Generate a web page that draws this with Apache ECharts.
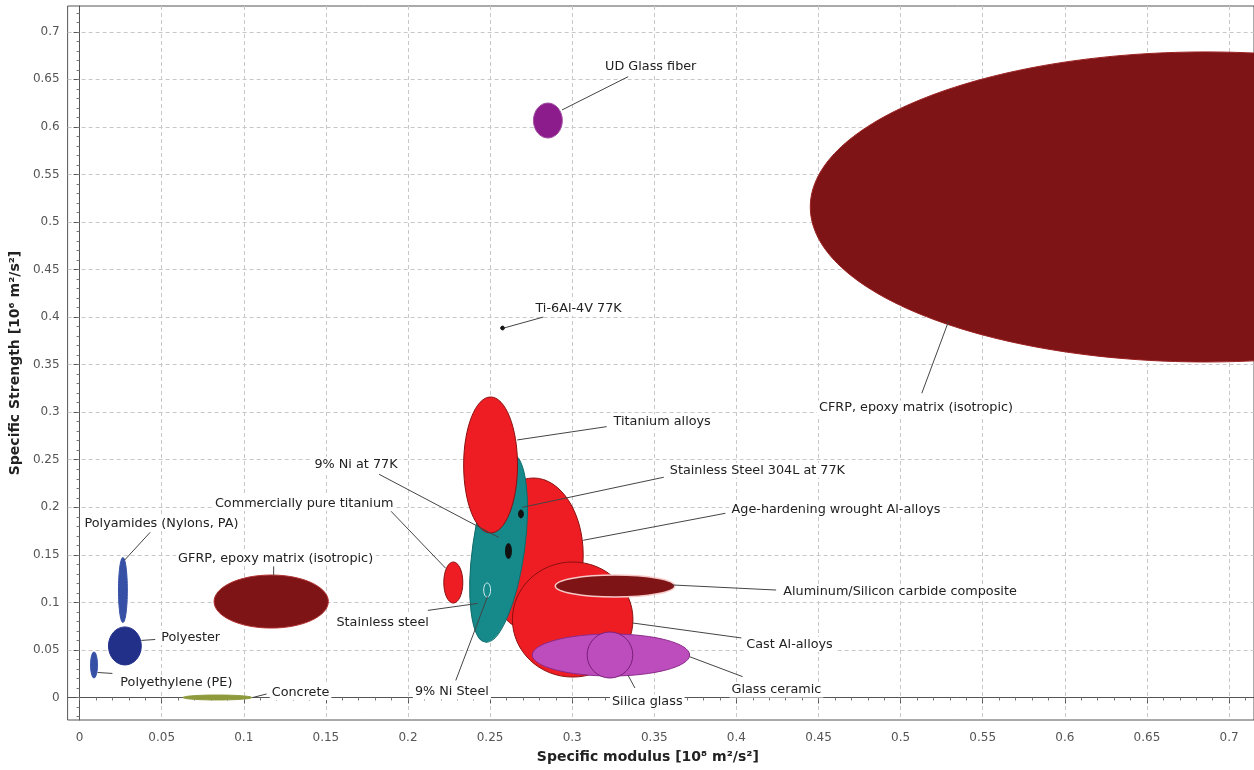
<!DOCTYPE html>
<html>
<head>
<meta charset="utf-8">
<script src="https://cdn.jsdelivr.net/npm/echarts@6/dist/echarts.min.js"></script>
<style>
html, body { margin: 0; padding: 0; background: #fff; }
#chart { width: 1254px; height: 770px; }
</style>
</head>
<body>
<div id="chart"></div>
<script>
// material families, listed back to front
var materials = ['CFRP, epoxy matrix (isotropic)', 'GFRP, epoxy matrix (isotropic)', 'Age-hardening wrought Al-alloys',
	'Stainless steel', 'Cast Al-alloys', 'Titanium alloys', 'Aluminum/Silicon carbide composite', 'Glass ceramic',
	'Silica glass', '9% Ni Steel', 'Commercially pure titanium', '9% Ni at 77K', 'Stainless Steel 304L at 77K',
	'Ti-6Al-4V 77K', 'UD Glass fiber', 'Polyamides (Nylons, PA)', 'Polyester', 'Polyethylene (PE)', 'Concrete'];
// centre of each bubble (specific modulus, specific strength)
var modulus = [0.686, 0.1167, 0.2764, 0.2552, 0.3003, 0.2503, 0.3261, 0.3236, 0.323, 0.2482, 0.2276, 0.2612, 0.2688, 0.2576, 0.2852, 0.0264, 0.0276, 0.0088, 0.0839];
var strength = [0.5158, 0.1009, 0.1498, 0.1572, 0.082, 0.2445, 0.1172, 0.0447, 0.0447, 0.113, 0.1209, 0.154, 0.193, 0.3885, 0.6067, 0.113, 0.0542, 0.0342, 0];
// half ranges
var modulusSpread = [0.241, 0.0348, 0.0303, 0.0158, 0.0367, 0.0164, 0.0364, 0.0479, 0.0139, 0.0021, 0.0058, 0.0018, 0.0015, 0.0012, 0.0088, 0.0027, 0.01, 0.0021, 0.0209];
var strengthSpread = [0.163, 0.0279, 0.081, 0.0999, 0.0605, 0.0715, 0.0116, 0.0221, 0.0242, 0.0074, 0.0216, 0.0079, 0.0042, 0.002, 0.0184, 0.0342, 0.02, 0.0137, 0.0026];

var xTicks = [0, 0.05, 0.1, 0.15, 0.2, 0.25, 0.3, 0.35, 0.4, 0.45, 0.5, 0.55, 0.6, 0.65, 0.7];
var yTicks = [0, 0.05, 0.1, 0.15, 0.2, 0.25, 0.3, 0.35, 0.4, 0.45, 0.5, 0.55, 0.6, 0.65, 0.7];

// styles
var RED = '#ee1d23', DARK = '#7e1416', TEAL = '#16898a', PINK = '#bd4dbd';
var fills = [DARK, DARK, RED, TEAL, RED, RED, DARK, PINK, PINK, TEAL, RED, '#111', '#111', '#111', '#8c1c8c', '#3550a5', '#22308a', '#3550a5', '#8e9a3c'];
var strokes = ['#9b2020', '#b03030', '#8a1010', '#0f6b6b', '#8a1010', '#8a1010', '#f6c9c9', '#8a2a8a', '#7a1f7a', '#d8f0f0', '#8a1010', '#111', '#111', '#111', '#a050a0', '#3550a5', '#22308a', '#3550a5', '#8e9a3c'];
var tilt = [0, 0, 0, -8, 0, 0, 0, 0, 0, 0, 0, 0, 0, 0, 0, 0, 0, 0, 0];

// label placement: text x, text y, leader from x,y to x,y (axis units)
var labelPos = [
	[0.4491, 0.3044, 0.5129, 0.3199, 0.5291, 0.3952],
	[0.0588, 0.1463, 0.1182, 0.1379, 0.1182, 0.1284],
	[0.3958, 0.1979, 0.3067, 0.1653, 0.3933, 0.1937],
	[0.1552, 0.0789, 0.2121, 0.0916, 0.2424, 0.0989],
	[0.4048, 0.0558, 0.337, 0.0783, 0.403, 0.0626],
	[0.324, 0.29, 0.2665, 0.2708, 0.321, 0.2848],
	[0.4273, 0.1112, 0.3612, 0.1183, 0.4242, 0.113],
	[0.3958, 0.0079, 0.3715, 0.0429, 0.4038, 0.0219],
	[0.323, -0.0044, 0.3339, 0.0237, 0.3382, 0.01],
	[0.203, 0.0058, 0.2291, 0.0179, 0.2485, 0.1063],
	[0.0812, 0.2042, 0.1897, 0.1958, 0.223, 0.1358],
	[0.1418, 0.2453, 0.1824, 0.2347, 0.2552, 0.1684],
	[0.3582, 0.2389, 0.2697, 0.20, 0.3558, 0.2316],
	[0.2764, 0.4092, 0.2582, 0.3884, 0.2824, 0.40],
	[0.3188, 0.6628, 0.2938, 0.6178, 0.3341, 0.6528],
	[0.0018, 0.1832, 0.043, 0.1737, 0.0273, 0.1442],
	[0.0485, 0.0632, 0.0376, 0.06, 0.0461, 0.061],
	[0.0236, 0.0158, 0.0109, 0.0263, 0.02, 0.0253],
	[0.1158, 0.0053, 0.1055, 0, 0.1139, 0.0037]
];

var minorX = [], minorY = [];
for (var i = 0; i <= 71; i++) minorX.push(+(i * 0.01).toFixed(2));
for (var j = -2; j <= 72; j++) minorY.push(+(j * 0.01).toFixed(2));

var FONT = 'DejaVu Sans';
var bubbles = materials.map(function(m, i) { return [modulus[i], strength[i]]; });

var myChart = echarts.init(document.getElementById('chart'));
var option = {
	animation: false,
	grid: {
		left: 65, top: 6, width: 1192, height: 714,
		show: true, borderColor: '#555', borderWidth: 1
	},
	xAxis: [{
		type: 'value', min: -0.00727, max: 0.7152,
		name: 'Specific modulus [10\u2078 m\u00b2/s\u00b2]', nameLocation: 'middle', nameGap: 30,
		nameTextStyle: { fontFamily: FONT, fontWeight: 'bold', fontSize: 14, color: '#222', padding: [0, 26, 0, 0] },
		axisLine: { show: true, lineStyle: { color: '#555' } },
		axisTick: { show: true, length: 6, customValues: xTicks, lineStyle: { color: '#555' } },
		axisLabel: { customValues: xTicks, margin: 12, fontFamily: FONT, fontSize: 12, color: '#555' },
		splitLine: { show: true, lineStyle: { color: '#c8c8c8', type: [4, 3] } }
	}, {
		type: 'value', min: -0.00727, max: 0.7152, position: 'bottom',
		axisLine: { show: false },
		axisTick: { show: true, length: 3, customValues: minorX, lineStyle: { color: '#777' } },
		axisLabel: { show: false },
		splitLine: { show: false }
	}],
	yAxis: [{
		type: 'value', min: -0.02366, max: 0.7271,
		name: 'Specific Strength [10\u2076 m\u00b2/s\u00b2]', nameLocation: 'middle', nameGap: 40,
		nameTextStyle: { fontFamily: FONT, fontWeight: 'bold', fontSize: 14, color: '#222' },
		axisLine: { show: true, lineStyle: { color: '#555' } },
		axisTick: { show: true, length: 6, customValues: yTicks, lineStyle: { color: '#555' } },
		axisLabel: { customValues: yTicks, margin: 8, fontFamily: FONT, fontSize: 12, color: '#555' },
		splitLine: { show: true, lineStyle: { color: '#c8c8c8', type: [4, 3] } }
	}, {
		type: 'value', min: -0.02366, max: 0.7271, position: 'left',
		axisLine: { show: false },
		axisTick: { show: true, length: 3, customValues: minorY, lineStyle: { color: '#777' } },
		axisLabel: { show: false },
		splitLine: { show: false }
	}],
	series: [{
		type: 'custom',
		name: 'bubbles',
		clip: true,
		data: bubbles,
		encode: { x: 0, y: 1 },
		renderItem: function(params, api) {
			var i = params.dataIndex;
			var c = api.coord([modulus[i], strength[i]]);
			var s = api.size([modulusSpread[i], strengthSpread[i]]);
			return {
				type: 'ellipse',
				x: c[0], y: c[1],
				rotation: tilt[i] * Math.PI / 180,
				shape: { cx: 0, cy: 0, rx: s[0], ry: s[1] },
				style: { fill: fills[i], stroke: strokes[i], lineWidth: i == 6 ? 1.5 : 1 }
			};
		}
	}, {
		type: 'custom',
		name: 'labels',
		clip: false,
		z: 3,
		data: bubbles,
		encode: { x: 0, y: 1 },
		renderItem: function(params, api) {
			var i = params.dataIndex;
			var p = labelPos[i];
			var t = api.coord([p[0], p[1]]);
			var a = api.coord([p[2], p[3]]);
			var b = api.coord([p[4], p[5]]);
			return {
				type: 'group',
				children: [{
					type: 'line',
					shape: { x1: a[0], y1: a[1], x2: b[0], y2: b[1] },
					style: { stroke: '#444', lineWidth: 1 }
				}, {
					type: 'text',
					x: t[0], y: t[1],
					style: {
						text: materials[i], fill: '#222', fontFamily: FONT, fontSize: 12.8,
						align: 'left', verticalAlign: 'middle', backgroundColor: '#fff', padding: [1, 2]
					}
				}]
			};
		}
	}]
};
myChart.setOption(option);
</script>
</body>
</html>
